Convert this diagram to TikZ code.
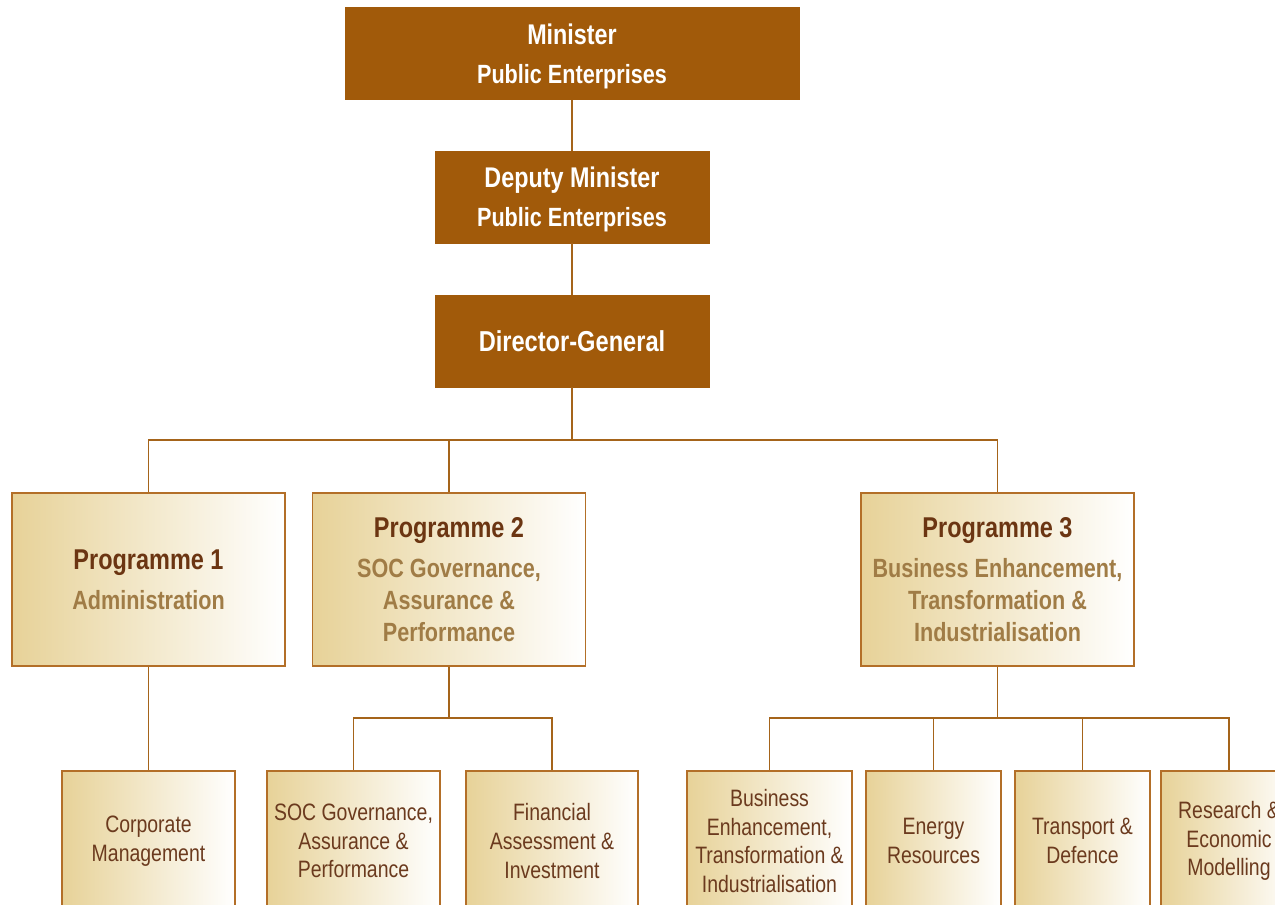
\documentclass[tikz,border=0pt]{standalone}
\usepackage{fontspec}
\setmainfont{Liberation Sans}[FakeStretch=0.82]
\usepackage{xcolor}
\definecolor{rustBrown}{HTML}{A15A0A}
\definecolor{edgeBrown}{HTML}{B36F28}
\definecolor{lineBrown}{HTML}{A5641A}
\definecolor{tanGold}{HTML}{E7D298}
\definecolor{titleBrown}{HTML}{6B3512}
\definecolor{subGold}{HTML}{A07C46}
\definecolor{leafText}{HTML}{6B3A1E}
\usetikzlibrary{positioning, calc}
\tikzset{
    % Top boxes - solid rust fill, white bold text
    office/.style={
        rectangle,
        draw=rustBrown,
        fill=rustBrown,
        text=white,
        font=\bfseries\fontsize{15}{22}\selectfont,
        align=center,
        minimum width=274\pxu,
        minimum height=92\pxu,
        inner sep=0pt,
        text depth=0pt,
    },
    % Programme boxes - gold to white gradient
    programme/.style={
        rectangle,
        draw=edgeBrown,
        line width=0.9pt,
        left color=tanGold,
        right color=white,
        text=subGold,
        font=\bfseries\fontsize{15}{18}\selectfont,
        align=center,
        minimum width=273\pxu,
        minimum height=173\pxu,
        inner sep=0pt,
    },
    % Sub-programme boxes - same gradient, regular text
    unit/.style={
        rectangle,
        draw=edgeBrown,
        line width=0.9pt,
        left color=tanGold,
        right color=white,
        text=leafText,
        font=\fontsize{13.5}{16.4}\selectfont,
        align=center,
        minimum height=140\pxu,
        inner sep=0pt,
    },
    % Connector lines
    link/.style={
        draw=lineBrown,
        line width=0.8pt,
    },
}
\newcommand{\pxu}{*0.02cm}
\newcommand{\progtitle}[1]{{\color{titleBrown}\fontsize{16.3}{18}\selectfont #1}\\[5pt]}

\begin{document}
\begin{tikzpicture}[x=0.02cm, y=-0.02cm]
    \useasboundingbox (0,0) rectangle (1275,904);

    % leadership
    \node (minister) [office, minimum width=454\pxu] at (572,53.5)
        {{\fontsize{16.2}{22}\selectfont Minister}\\Public Enterprises};
    \node (deputy) [office] at (572,197)
        {{\fontsize{16.2}{22}\selectfont Deputy Minister}\\Public Enterprises};
    \node (dg) [office] at (572,341)
        {\fontsize{16.4}{22}\selectfont Director-General};

    % programmes
    \node (prog1) [programme] at (148.5,579.5)
        {\progtitle{Programme 1}Administration};
    \node (prog2) [programme] at (449,579.5)
        {\progtitle{Programme 2}SOC Governance,\\Assurance \&\\Performance};
    \node (prog3) [programme] at (997.5,579.5)
        {\progtitle{Programme 3}Business Enhancement,\\Transformation \&\\Industrialisation};

    % sub-programmes
    \node (corpmgmt) [unit, minimum width=173\pxu] at (148.5,841) {Corporate\\Management};
    \node (socgov) [unit, minimum width=173\pxu] at (353.5,841) {SOC Governance,\\Assurance \&\\Performance};
    \node (finance) [unit, minimum width=172\pxu] at (552,841) {Financial\\Assessment \&\\Investment};
    \node (business) [unit, minimum width=165\pxu] at (769.5,841) {Business\\Enhancement,\\Transformation \&\\Industrialisation};
    \node (energy) [unit, minimum width=135\pxu] at (933.5,841) {Energy\\Resources};
    \node (transport) [unit, minimum width=135\pxu] at (1082.5,841) {Transport \&\\Defence};
    \node (research) [unit, minimum width=136\pxu] at (1229,841) {Research \&\\Economic\\Modelling};

    % bus points
    \coordinate (busTop) at (572,440);
    \coordinate (busTwo) at (449,718);
    \coordinate (busThree) at (997.5,718);

    \draw [link] (minister) -- (deputy);
    \draw [link] (deputy) -- (dg);
    \draw [link] (dg) -- (busTop);
    \draw [link] (busTop) -| (prog1);
    \draw [link] (busTop) -| (prog2);
    \draw [link] (busTop) -| (prog3);
    \draw [link] (prog1) -- (corpmgmt);
    \draw [link] (prog2) -- (busTwo);
    \draw [link] (busTwo) -| (socgov);
    \draw [link] (busTwo) -| (finance);
    \draw [link] (prog3) -- (busThree);
    \draw [link] (busThree) -| (business);
    \draw [link] (busThree) -| (energy);
    \draw [link] (busThree) -| (transport);
    \draw [link] (busThree) -| (research);
\end{tikzpicture}
\end{document}
